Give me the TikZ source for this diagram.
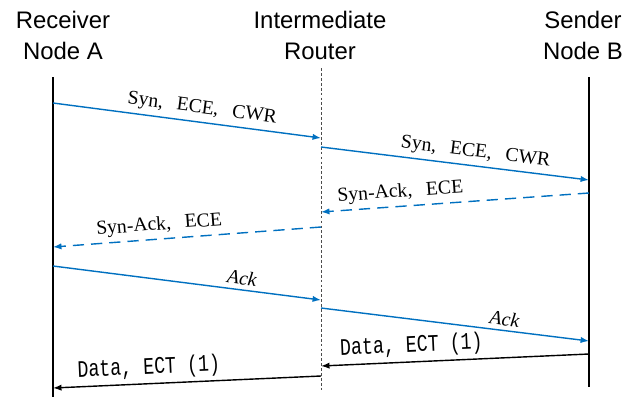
\documentclass[tikz,border=0pt]{standalone}
\usepackage{fontspec}
\usepackage{graphicx}
\setmainfont{Liberation Serif}
\setsansfont{Liberation Sans}
\setmonofont{Liberation Mono}
\usetikzlibrary{arrows.meta}
\definecolor{msgblue}{RGB}{0,112,192}
\newcommand{\tallmono}[1]{\scalebox{1}[1.3]{#1}}
\tikzset{
  header/.style={font=\sffamily\fontsize{17}{22}\selectfont, align=center},
  lifeline/.style={line width=1pt},
  msg/.style={draw=msgblue, line width=1pt, -{Latex[length=6pt,width=4.5pt]}},
  msgdash/.style={msg, dash pattern=on 8pt off 5pt},
  datamsg/.style={draw=black, line width=1pt, -{Latex[length=6pt,width=4.5pt]}},
  lbl/.style={sloped, above=2pt, inner sep=1pt, font=\fontsize{14}{16}\selectfont},
  datalbl/.style={sloped, above=2pt, inner sep=1pt, font=\ttfamily\fontsize{13}{15}\selectfont},
}

\begin{document}
\begin{tikzpicture}[x=0.025cm, y=-0.025cm]
    \useasboundingbox (0,0) rectangle (631,397);
    % Draw headers
    \node[header] (hA) at (63,35) {Receiver\\Node A};
    \node[header] (hR) at (320,35) {Intermediate\\Router};
    \node[header] (hB) at (583,35) {Sender\\Node B};
    % Draw lifelines
    \coordinate (a1) at (53,77);
    \coordinate (a2) at (53,397);
    \coordinate (r1) at (321,68);
    \coordinate (r2) at (321,390);
    \coordinate (b1) at (589,77);
    \coordinate (b2) at (589,387);
    \draw[lifeline] (a1) -- (a2);
    \draw[gray!60!black, dash pattern=on 2pt off 1.5pt] (r1) -- (r2);
    \draw[lifeline] (b1) -- (b2);
    % Draw handshake: A to B
    \coordinate (m1s) at (53,103);  \coordinate (m1e) at (321,138);
    \coordinate (m2s) at (321,147); \coordinate (m2e) at (589,180);
    \draw[msg] (m1s) -- (m1e) node[lbl, pos=0.55] (l1) {Syn,\hspace{.7em}ECE,\hspace{.7em}CWR};
    \draw[msg] (m2s) -- (m2e) node[lbl, pos=0.57] (l2) {Syn,\hspace{.7em}ECE,\hspace{.7em}CWR};
    % Draw handshake: B to A
    \coordinate (m3s) at (589,193); \coordinate (m3e) at (321,212);
    \coordinate (m4s) at (321,227); \coordinate (m4e) at (53,247);
    \draw[msgdash] (m3s) -- (m3e) node[lbl, pos=0.70] (l3) {Syn-Ack,\hspace{.7em}ECE};
    \draw[msgdash] (m4s) -- (m4e) node[lbl, pos=0.60] (l4) {Syn-Ack,\hspace{.7em}ECE};
    % Draw acks
    \coordinate (m5s) at (53,266);  \coordinate (m5e) at (321,300);
    \coordinate (m6s) at (321,308); \coordinate (m6e) at (589,341);
    \draw[msg] (m5s) -- (m5e) node[lbl, pos=0.70] (l5) {\itshape Ack};
    \draw[msg] (m6s) -- (m6e) node[lbl, pos=0.68] (l6) {\itshape Ack};
    % Draw data
    \coordinate (m7s) at (589,354); \coordinate (m7e) at (321,366);
    \coordinate (m8s) at (321,376); \coordinate (m8e) at (53,388);
    \draw[datamsg] (m7s) -- (m7e) node[datalbl, pos=0.66] (l7) {\tallmono{Data, ECT (1)}};
    \draw[datamsg] (m8s) -- (m8e) node[datalbl, pos=0.64] (l8) {\tallmono{Data, ECT (1)}};
\end{tikzpicture}
\end{document}
